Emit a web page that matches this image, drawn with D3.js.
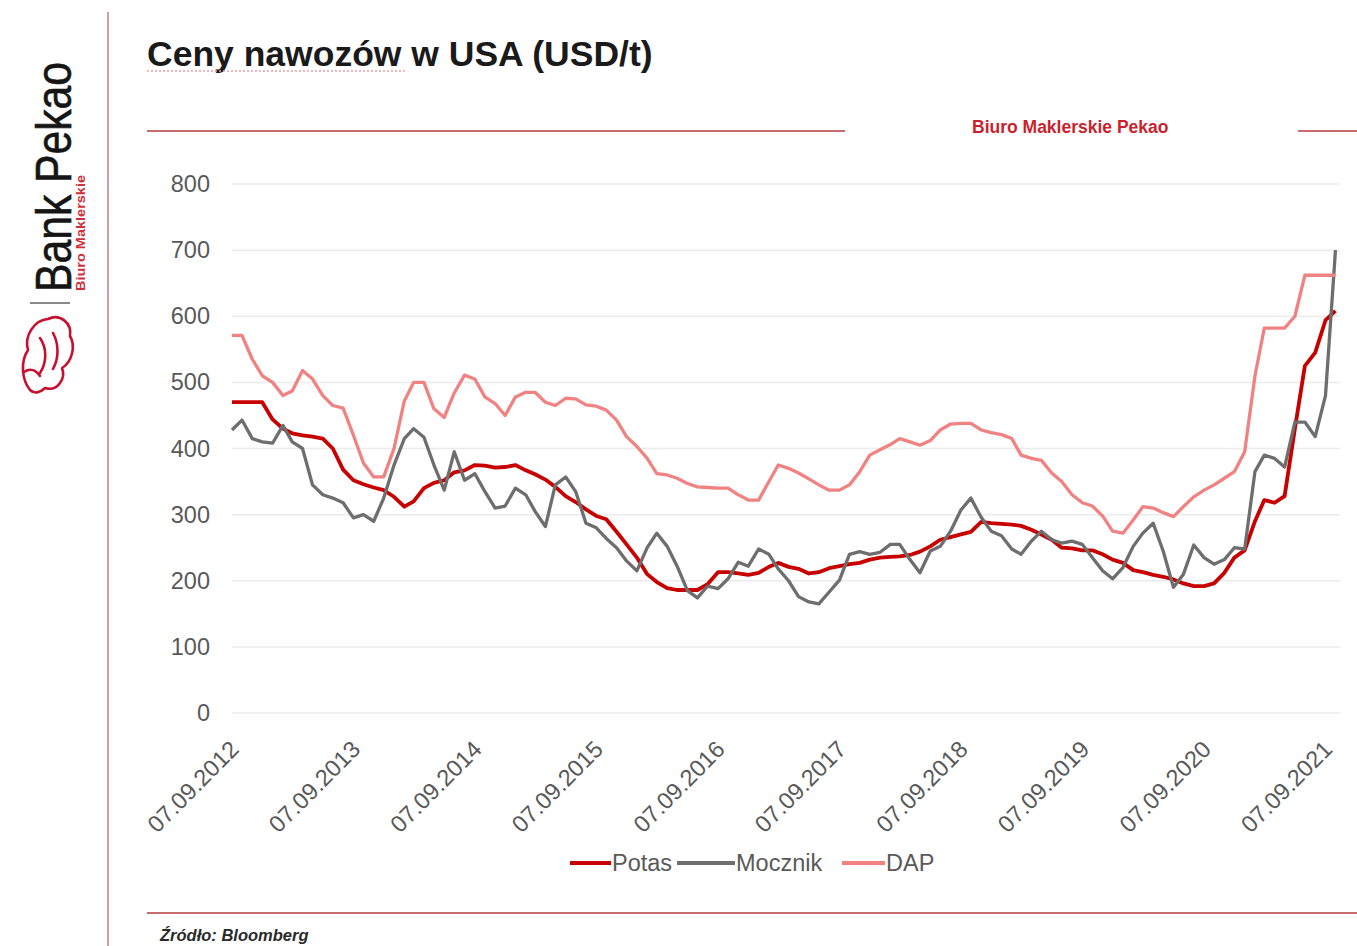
<!DOCTYPE html>
<html>
<head>
<meta charset="utf-8">
<script src="https://cdn.jsdelivr.net/npm/d3@7/dist/d3.min.js"></script>
<style>
  html, body { margin: 0; padding: 0; background: #ffffff; }
  svg { display: block; }
  text { font-family: "Liberation Sans", Arial, sans-serif; }
</style>
</head>
<body>
<svg id="chart" width="1357" height="946"></svg>
<script>
const months = [
  "2012-09","2012-10","2012-11","2012-12",
  "2013-01","2013-02","2013-03","2013-04","2013-05","2013-06","2013-07","2013-08","2013-09","2013-10","2013-11","2013-12",
  "2014-01","2014-02","2014-03","2014-04","2014-05","2014-06","2014-07","2014-08","2014-09","2014-10","2014-11","2014-12",
  "2015-01","2015-02","2015-03","2015-04","2015-05","2015-06","2015-07","2015-08","2015-09","2015-10","2015-11","2015-12",
  "2016-01","2016-02","2016-03","2016-04","2016-05","2016-06","2016-07","2016-08","2016-09","2016-10","2016-11","2016-12",
  "2017-01","2017-02","2017-03","2017-04","2017-05","2017-06","2017-07","2017-08","2017-09","2017-10","2017-11","2017-12",
  "2018-01","2018-02","2018-03","2018-04","2018-05","2018-06","2018-07","2018-08","2018-09","2018-10","2018-11","2018-12",
  "2019-01","2019-02","2019-03","2019-04","2019-05","2019-06","2019-07","2019-08","2019-09","2019-10","2019-11","2019-12",
  "2020-01","2020-02","2020-03","2020-04","2020-05","2020-06","2020-07","2020-08","2020-09","2020-10","2020-11","2020-12",
  "2021-01","2021-02","2021-03","2021-04","2021-05","2021-06","2021-07","2021-08","2021-09","2021-10"
];

const potas = [
  470,470,470,470,
  444,430,423,420,418,415,400,368,352,346,341,337,
  327,312,320,340,348,352,364,367,375,374,371,372,
  375,367,361,353,342,328,319,308,298,293,274,255,
  235,210,198,189,186,186,186,195,213,213,211,209,
  212,221,227,221,218,211,213,219,222,225,227,232,
  235,236,237,239,244,252,262,266,270,274,289,287,
  286,285,283,277,270,262,250,249,246,246,240,232,
  227,216,213,209,206,202,196,192,192,196,212,235,
  246,290,322,318,328,430,525,545,594,608
];

const mocznik = [
  428,443,415,410,
  408,435,410,400,345,330,325,318,295,300,290,325,
  375,415,430,417,375,337,395,352,362,335,310,313,
  340,330,305,282,345,357,335,287,280,264,250,230,
  215,250,272,252,222,185,174,192,188,203,228,222,
  248,240,218,200,176,168,165,183,201,240,244,240,
  243,255,255,232,212,245,252,275,307,325,296,275,
  268,248,240,260,275,262,257,260,255,235,215,203,
  220,252,272,287,245,190,210,254,235,225,232,250,
  248,365,390,385,372,440,440,418,480,700
];

const dap = [
  571,571,535,510,
  500,480,487,518,505,480,465,461,420,378,357,357,
  400,472,500,500,460,447,484,511,505,478,468,450,
  478,485,485,470,465,476,475,466,464,458,443,418,
  403,385,362,360,355,347,342,341,340,340,330,322,
  322,350,375,370,363,354,345,337,337,345,365,390,
  398,406,415,410,405,412,428,437,438,438,428,424,
  421,415,390,385,382,363,350,330,318,313,298,275,
  272,292,312,310,303,297,312,327,337,345,355,365,
  395,510,582,582,582,600,662,662,662,662
];

const seriesNames = ["Potas", "Mocznik", "DAP"];
const seriesColors = ["#c80000", "#6e6e6e", "#f08282"];
const yTicks = [0, 100, 200, 300, 400, 500, 600, 700, 800];
const xTickLabels = ["07.09.2012","07.09.2013","07.09.2014","07.09.2015","07.09.2016",
                     "07.09.2017","07.09.2018","07.09.2019","07.09.2020","07.09.2021"];

const titleText = "Ceny nawozów w USA (USD/t)";
const brandText = "Biuro Maklerskie Pekao";
const sourceText = "Źródło: Bloomberg";

// ---------- SETUP ----------
const svg = d3.select("#chart");
const parseDay = d3.timeParse("%Y-%m-%d");
const parseLabel = d3.timeParse("%d.%m.%Y");
const dates = months.map(m => parseDay(m + "-07"));
const tickDates = xTickLabels.map(parseLabel);

const plotLeft = 232, plotRight = 1340, plotTop = 184, plotBottom = 713;

const x = d3.scaleTime()
  .domain([tickDates[0], tickDates[tickDates.length - 1]])
  .range([plotLeft, 1325.5]);
const y = d3.scaleLinear().domain([0, 800]).range([plotBottom, plotTop]);

// ---------- DECORATION / FRAME ----------
svg.append("line").attr("x1", 108).attr("x2", 108).attr("y1", 12).attr("y2", 946)
  .attr("stroke", "#c9a3a3").attr("stroke-width", 2);

svg.append("text")
  .attr("transform", "translate(71,292) rotate(-90)")
  .attr("font-size", 50).attr("fill", "#151515")
  .attr("stroke", "#151515").attr("stroke-width", 0.6)
  .attr("textLength", 230).attr("lengthAdjust", "spacingAndGlyphs")
  .text("Bank Pekao");
svg.append("text")
  .attr("transform", "translate(85,291) rotate(-90)")
  .attr("font-size", 12.5).attr("font-weight", "bold").attr("fill", "#d0303a")
  .attr("textLength", 116).attr("lengthAdjust", "spacingAndGlyphs")
  .text("Biuro Maklerskie");
svg.append("line").attr("x1", 30).attr("x2", 70).attr("y1", 303).attr("y2", 303)
  .attr("stroke", "#8a8a8a").attr("stroke-width", 2);
const emblem = svg.append("g").attr("fill", "none").attr("stroke", "#c8102e")
  .attr("stroke-width", 2.6).attr("stroke-linecap", "round").attr("stroke-linejoin", "round");
emblem.append("path").attr("d",
  "M30 390 C22 380 20 362 28 350 C24 336 34 320 48 319 C60 313 72 323 70 336 " +
  "C76 346 72 362 62 368 C66 378 58 392 45 388 C40 393 34 394 30 390 Z");
emblem.append("path").attr("d", "M40 338 C47 348 47 362 40 373");
emblem.append("path").attr("d", "M53 333 C59 344 59 358 53 369");
emblem.append("path").attr("d", "M24 372 C30 368 36 370 40 376");

// title
svg.append("text").attr("x", 147).attr("y", 66)
  .attr("font-size", 35.5).attr("font-weight", "bold").attr("fill", "#1a1a1a")
  .text(titleText);
svg.append("line").attr("x1", 147).attr("x2", 405).attr("y1", 71).attr("y2", 71)
  .attr("stroke", "#e3a0a8").attr("stroke-width", 1.5).attr("stroke-dasharray", "2,2");

// header rules + brand text
svg.append("line").attr("x1", 147).attr("x2", 845).attr("y1", 131).attr("y2", 131)
  .attr("stroke", "#c86a6e").attr("stroke-width", 2);
svg.append("line").attr("x1", 1298).attr("x2", 1357).attr("y1", 131).attr("y2", 131)
  .attr("stroke", "#c86a6e").attr("stroke-width", 2);
svg.append("text").attr("x", 972).attr("y", 133)
  .attr("font-size", 17.5).attr("font-weight", "bold").attr("fill", "#cc1f2d")
  .text(brandText);

// footer rule + source
svg.append("line").attr("x1", 147).attr("x2", 1357).attr("y1", 913).attr("y2", 913)
  .attr("stroke", "#c86a6e").attr("stroke-width", 2);
svg.append("text").attr("x", 160).attr("y", 941)
  .attr("font-size", 16.5).attr("font-weight", "bold").attr("font-style", "italic").attr("fill", "#2a2a2a")
  .text(sourceText);

// ---------- GRID ----------
svg.append("g").selectAll("line").data(yTicks).join("line")
  .attr("x1", plotLeft).attr("x2", plotRight)
  .attr("y1", d => y(d)).attr("y2", d => y(d))
  .attr("stroke", "#ececec").attr("stroke-width", 1.5);

// ---------- AXES ----------
const yAxis = svg.append("g").attr("transform", `translate(${plotLeft},0)`)
  .call(d3.axisLeft(y).tickValues(yTicks).tickSize(0).tickPadding(22).tickFormat(d3.format("d")));
yAxis.select(".domain").remove();
yAxis.selectAll("text").attr("font-size", 23.5).attr("fill", "#595959")
  .attr("font-family", "'Liberation Sans', Arial, sans-serif");

const xAxis = svg.append("g").attr("transform", `translate(0,${plotBottom})`)
  .call(d3.axisBottom(x).tickValues(tickDates).tickSize(0)
    .tickFormat((d, i) => xTickLabels[i]));
xAxis.select(".domain").remove();
xAxis.selectAll("text")
  .attr("x", 0).attr("y", 0).attr("dy", "0.35em")
  .attr("text-anchor", "end")
  .attr("transform", "translate(2,32) rotate(-45)")
  .attr("font-size", 23.5).attr("fill", "#595959")
  .attr("font-family", "'Liberation Sans', Arial, sans-serif");

// ---------- LINES ----------
const seriesData = [potas, mocznik, dap];
const line = d3.line().x((d, i) => x(dates[i])).y(d => y(d)).curve(d3.curveLinear);
const widths = [3.8, 3.3, 3.3];
svg.append("g").selectAll("path").data(seriesData).join("path")
  .attr("d", d => line(d))
  .attr("fill", "none")
  .attr("stroke", (d, i) => seriesColors[i])
  .attr("stroke-width", (d, i) => widths[i])
  .attr("stroke-linejoin", "round");

// ---------- LEGEND ----------
const legendItems = [
  { x: 570, w: 41 },
  { x: 677, w: 58 },
  { x: 842, w: 43 }
];
const legend = svg.append("g");
seriesNames.forEach((name, i) => {
  const it = legendItems[i];
  legend.append("line").attr("x1", it.x).attr("x2", it.x + it.w)
    .attr("y1", 863).attr("y2", 863)
    .attr("stroke", seriesColors[i]).attr("stroke-width", 4);
  legend.append("text").attr("x", it.x + it.w + 1).attr("y", 871)
    .attr("font-size", 23.5).attr("fill", "#595959").text(name);
});
</script>
</body>
</html>
